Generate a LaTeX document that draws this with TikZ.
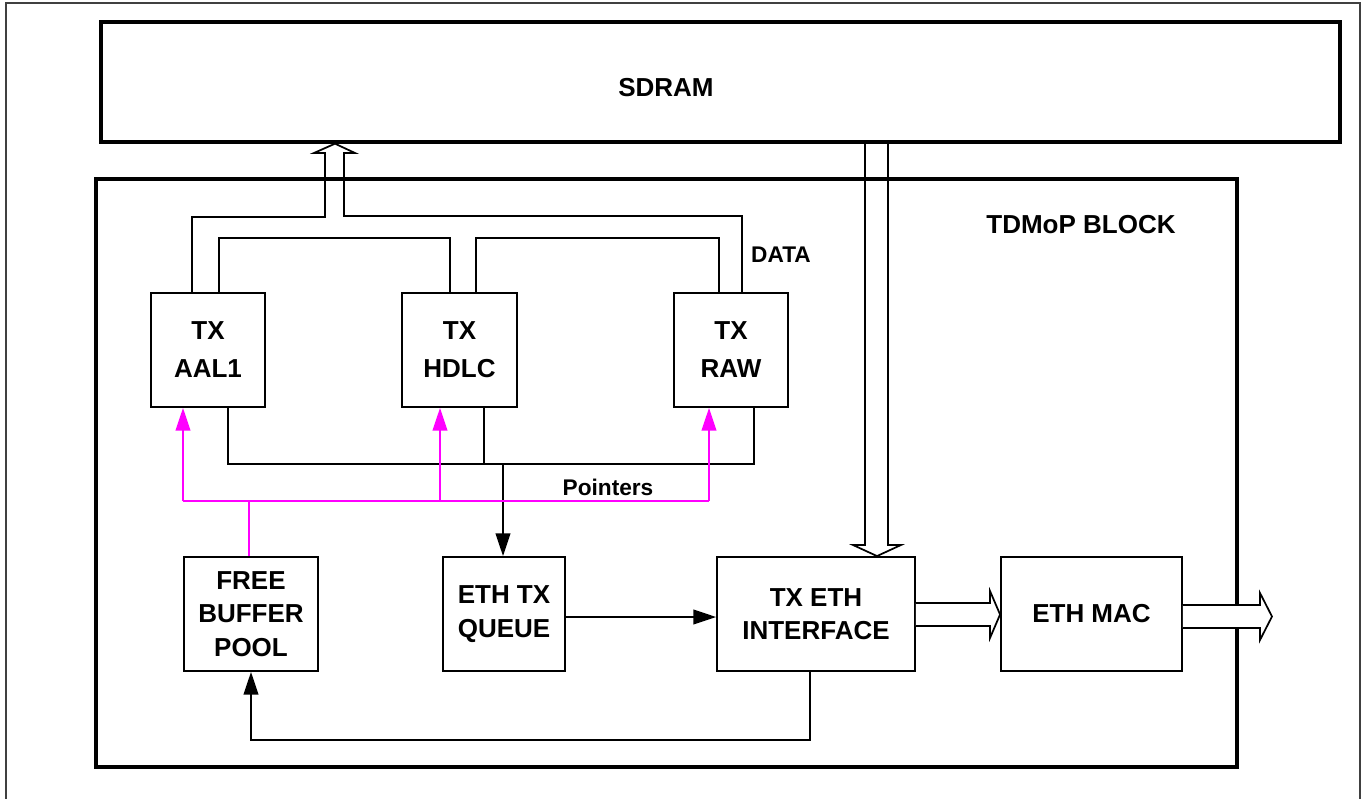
\documentclass[tikz,border=0pt]{standalone}
\usepackage{fontspec}
\setmainfont{Liberation Sans}
\usetikzlibrary{arrows.meta,calc}
\definecolor{pinkline}{RGB}{255,0,255}
\begin{document}
\begin{tikzpicture}[x=0.75pt,y=-0.75pt,
  bigfont/.style={font=\fontsize{19.5}{25}\selectfont\bfseries},
  smallfont/.style={font=\fontsize{17}{20}\selectfont\bfseries},
  blockbox/.style={draw,line width=1.4pt,inner sep=0pt,align=center,bigfont},
  thickbox/.style={draw,line width=2.5pt,inner sep=0pt},
  wire/.style={line width=1.3pt},
  pwire/.style={line width=1.3pt,draw=pinkline},
  tip/.style={-{Triangle[length=17pt,width=11pt]}},
  hollow/.style={line width=1.3pt,line join=miter},
]
\useasboundingbox (0,0) rectangle (1361,799);
% outer frame
\draw[line width=1.5pt,draw=black!75] (6,3) rectangle (1360,830);
% big boxes
\node[thickbox,minimum width=929.25pt,minimum height=90pt] (sdram) at (720.5,82) {};
\node[bigfont] (sdramlbl) at (666,88) {SDRAM};
\node[thickbox,minimum width=855.75pt,minimum height=441pt] (tdmop) at (666.5,473) {};
\node[bigfont] (tdmoplbl) at (1081,225) {TDMoP BLOCK};
% TX boxes
\node[blockbox,minimum width=85.5pt,minimum height=85.5pt,font=\fontsize{19.5}{28.5}\selectfont\bfseries] (aal1) at (208,350) {TX\\AAL1};
\node[blockbox,minimum width=86.25pt,minimum height=85.5pt,font=\fontsize{19.5}{28.5}\selectfont\bfseries] (hdlc) at (459.5,350) {TX\\HDLC};
\node[blockbox,minimum width=85.5pt,minimum height=85.5pt,font=\fontsize{19.5}{28.5}\selectfont\bfseries] (raw) at (731,350) {TX\\RAW};
% bottom row
\node[blockbox,minimum width=100.5pt,minimum height=85.5pt] (free) at (251,614) {FREE\\BUFFER\\POOL};
\node[blockbox,minimum width=91.5pt,minimum height=85.5pt] (queue) at (504,614) {ETH TX\\QUEUE};
\node[blockbox,minimum width=148.5pt,minimum height=85.5pt] (txeth) at (816,614) {TX ETH\\INTERFACE};
\node[blockbox,minimum width=135.75pt,minimum height=85.5pt] (mac) at (1091.5,614) {ETH MAC};
% labels
\node[smallfont] (datalbl) at (781,255) {DATA};
\node[smallfont] (ptrlbl) at (608,487) {Pointers};
% data lines with hollow arrow into SDRAM
\draw[hollow] (192,0 |- aal1.north) |- (325,217) -- (325,153) -- (314,153)
  -- (335,0 |- sdram.south) -- (355,153) -- (344,153) |- (742,216) -- (742,0 |- raw.north);
\draw[wire] (219,0 |- aal1.north) |- (450,238) -- (450,0 |- hdlc.north);
\draw[wire] (476,0 |- hdlc.north) |- (719,238) -- (719,0 |- raw.north);
% pointer return lines (black)
\draw[wire] (228,0 |- aal1.south) |- (754,464) -- (754,0 |- raw.south);
\draw[wire] (484,0 |- hdlc.south) -- (484,464);
\draw[wire,tip] (503,464) -- (503,0 |- queue.north);
% pink pointers
\draw[pwire] (249,0 |- free.north) -- (249,501);
\draw[pwire] (183,501) -- (709,501);
\draw[pwire,tip,fill=pinkline] (183,501) -- (183,0 |- aal1.south);
\draw[pwire,tip,fill=pinkline] (440,501) -- (440,0 |- hdlc.south);
\draw[pwire,tip,fill=pinkline] (709,501) -- (709,0 |- raw.south);
% queue to tx eth
\draw[wire,tip] (queue.east |- 0,617) -- (txeth.west |- 0,617);
% return to free buffer pool
\draw[wire,tip] (810,0 |- txeth.south) -- (810,740) -| (free.south);
% SDRAM to TX ETH hollow arrow
\draw[hollow] (865,0 |- sdram.south) -- (865,545) -- (853,545) -- (877,0 |- txeth.north)
  -- (901,545) -- (888,545) -- (888,0 |- sdram.south);
% TX ETH to ETH MAC hollow arrow
\draw[hollow,fill=white] (txeth.east |- 0,603) -- (990,603) -- (990,591) -- (mac.west |- 0,614.5)
  -- (990,638) -- (990,626) -- (txeth.east |- 0,626);
% ETH MAC output hollow arrow
\draw[hollow,fill=white] (mac.east |- 0,605) -- (1260,605) -- (1260,593) -- (1272,616.5)
  -- (1260,640) -- (1260,628) -- (mac.east |- 0,628);
\end{tikzpicture}
\end{document}
